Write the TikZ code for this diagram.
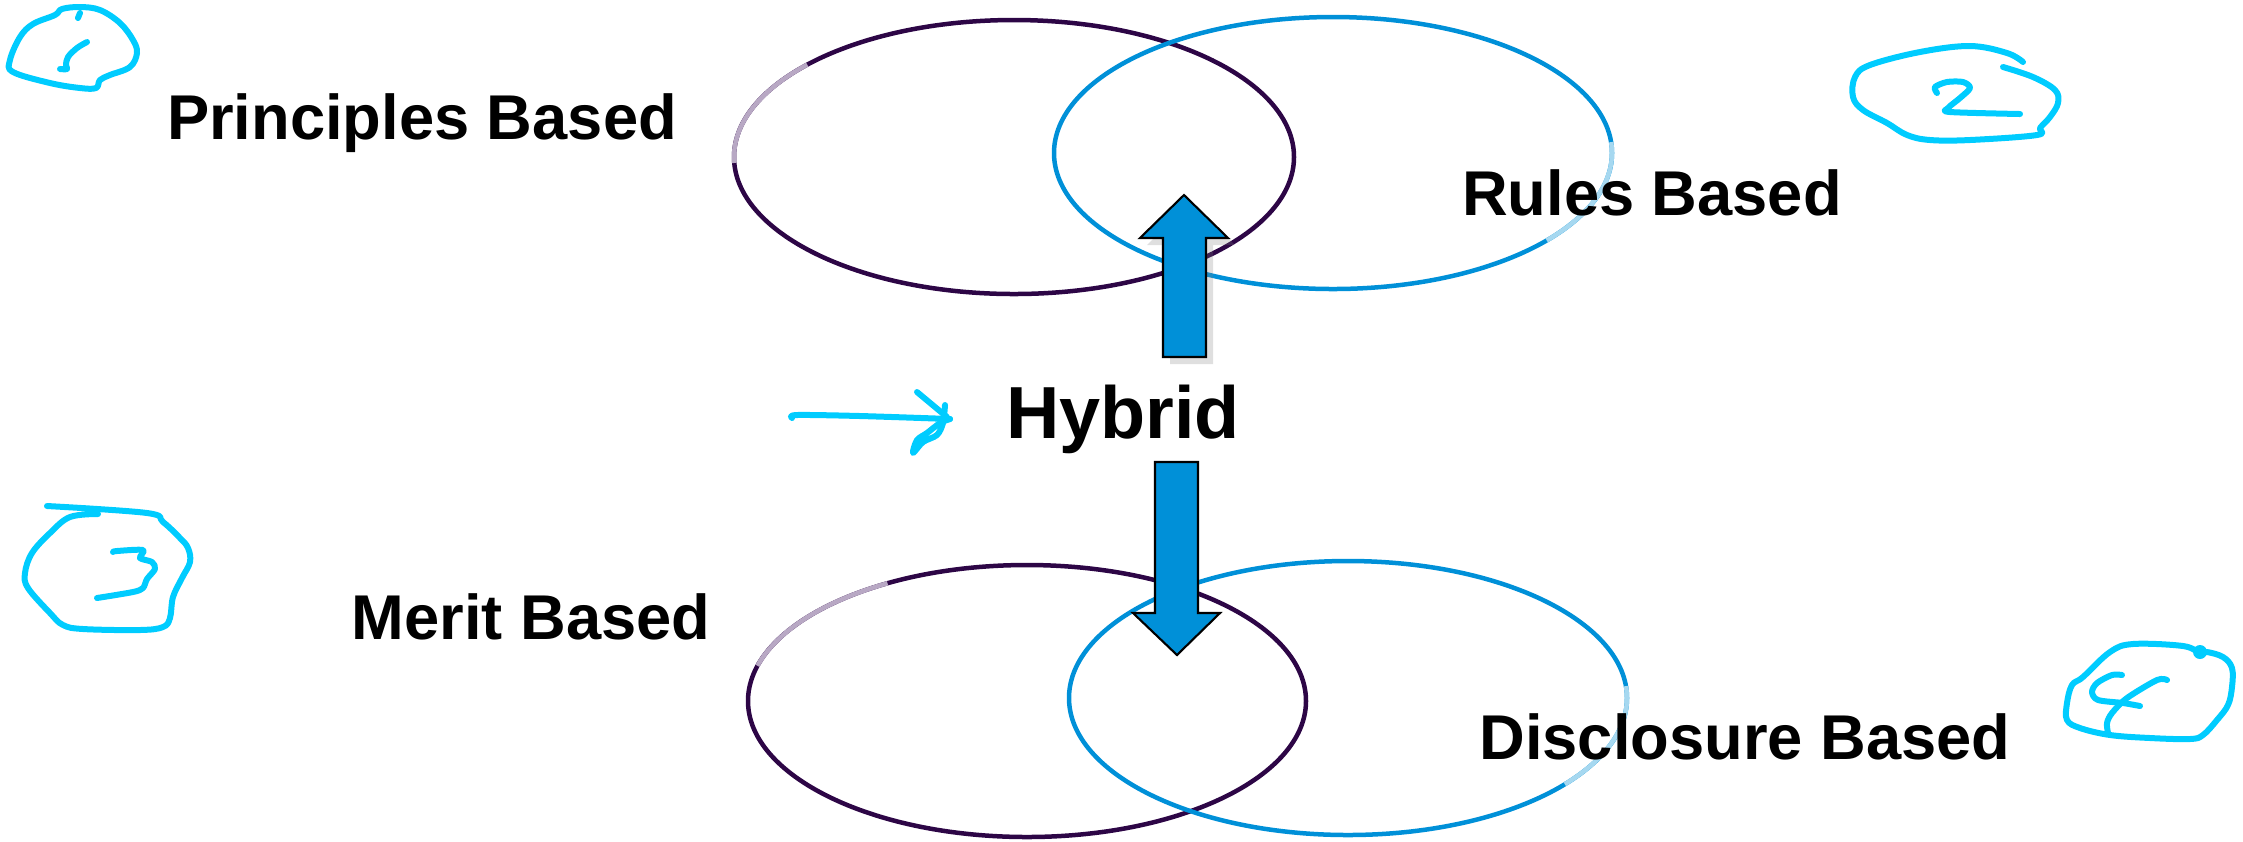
\documentclass[tikz,border=0pt]{standalone}
\usepackage{fontspec}
\setmainfont{Liberation Sans}
\usetikzlibrary{shadows}

\definecolor{setpurple}{RGB}{45,6,70}
\definecolor{setlilac}{RGB}{184,168,196}
\definecolor{setblue}{RGB}{0,144,216}
\definecolor{setpale}{RGB}{166,216,240}
\definecolor{penblue}{RGB}{0,204,255}

\begin{document}
\begin{tikzpicture}[x=0.1mm, y=-0.1mm,
    every node/.style={font=\fontsize{18}{22}\selectfont\bfseries, anchor=base, inner sep=0pt},
    ring/.style={line width=0.45mm},
    blockarrow/.style={fill=setblue, draw=black, line width=0.6pt, line join=miter},
    pen/.style={penblue, line width=0.6mm, line cap=round, line join=round}]
    \useasboundingbox (0,0) rectangle (2243,841);
    % \draw[help lines, step=100] (0,0) grid (2243,841);

    % the four sets
    \coordinate (pc) at (1014,157);
    \coordinate (rc) at (1333,153);
    \coordinate (mc) at (1027,701);
    \coordinate (dc) at (1348,698);
    \draw[ring, setpurple] (pc) ellipse [x radius=280, y radius=137];
    \draw[ring, setlilac] ([shift={(-182.5:280 and 137)}]pc) arc [start angle=-182.5, end angle=-137.6, x radius=280, y radius=137];
    \draw[ring, setblue] (rc) ellipse [x radius=279, y radius=136];
    \draw[ring, setpale] ([shift={(-4.6:279 and 136)}]rc) arc [start angle=-4.6, end angle=40, x radius=279, y radius=136];
    \draw[ring, setpurple] (mc) ellipse [x radius=279, y radius=136];
    \draw[ring, setlilac] ([shift={(-165:279 and 136)}]mc) arc [start angle=-165, end angle=-120, x radius=279, y radius=136];
    \draw[ring, setblue] (dc) ellipse [x radius=279, y radius=137];
    \draw[ring, setpale] ([shift={(-5:279 and 137)}]dc) arc [start angle=-5, end angle=39, x radius=279, y radius=137];

    \node (pb) at (422,139) {Principles Based};
    \node (rb) at (1652,215) {Rules Based};
    \node (mb) at (531,639) {Merit Based};
    \node (db) at (1745,759) {Disclosure Based};
    \node (hyb) at (1123,438) [font=\fontsize{21}{25}\selectfont\bfseries] {Hybrid};

    % block arrows
    \filldraw[blockarrow, drop shadow={opacity=0.25, shadow xshift=0.7mm, shadow yshift=-0.7mm}]
        (1163,357) -- (1163,238) -- (1140,238) -- (1184,195) -- (1228,238) -- (1206,238) -- (1206,357) -- cycle;
    \filldraw[blockarrow]
        (1155,462) -- (1198,462) -- (1198,613) -- (1220,613) -- (1177,655) -- (1133,613) -- (1155,613) -- cycle;

    % pen notes
    \draw[pen] plot[smooth cycle, tension=0.6] coordinates {(10,60) (20,37) (33,24) (55,15) (62,9) (80,7) (100,10) (120,23) (133,40) (137,53) (130,67) (110,75) (100,80) (96,88) (80,88) (50,83) (13,72)};
    \draw[pen] (80,13) -- (78,18);
    \draw[pen] plot[smooth, tension=0.6] coordinates {(87,42) (77,48) (68,57) (66,65) (67,69) (60,69)};

    \draw[pen] plot[smooth, tension=0.6] coordinates {(2003,67) (2033,77) (2055,90) (2058,103) (2050,117) (2040,128) (2037,135) (1970,140) (1930,140) (1907,135) (1887,123) (1863,110) (1853,97) (1855,77) (1870,65) (1920,52) (1970,46) (2007,53) (2023,62)};
    \draw[pen] plot[smooth, tension=0.5] coordinates {(1937,93) (1935,87) (1947,82) (1963,82) (1970,88) (1960,98) (1948,108) (1950,112) (2020,114)};

    \draw[pen] plot[smooth, tension=0.6] coordinates {(98,514) (70,517) (50,533) (32,553) (25,573) (28,588) (50,613) (63,625) (83,629) (140,630) (163,627) (170,618) (173,597) (182,578) (190,562) (188,548) (180,538) (163,522) (147,513) (47,506)};
    \draw[pen] plot[smooth, tension=0.5] coordinates {(113,552) (117,551) (143,550) (140,558) (152,562) (155,569) (147,579) (143,588) (133,592) (97,598)};

    \draw[pen] plot[smooth cycle, tension=0.6] coordinates {(2200,653) (2183,646) (2133,644) (2110,652) (2083,677) (2072,685) (2067,703) (2067,720) (2080,728) (2110,735) (2150,738) (2190,739) (2203,735) (2217,720) (2228,705) (2232,687) (2232,668) (2223,657) (2207,652)};
    \fill[penblue] (2200,652) circle [radius=7];
    \draw[pen] plot[smooth, tension=0.5] coordinates {(2122,675) (2112,675) (2097,683) (2092,692) (2098,700) (2123,703) (2140,706)};
    \draw[pen] plot[smooth, tension=0.5] coordinates {(2167,680) (2157,680) (2127,698) (2112,713) (2107,723) (2108,733)};

    \draw[pen] plot[smooth, tension=0.5] coordinates {(792,418) (797,415) (860,416) (950,419)};
    \draw[pen] (917,392) -- (947,417);
    \draw[pen] plot[smooth, tension=0.5] coordinates {(945,405) (943,423) (937,435) (923,442) (913,453) (917,440) (927,433) (940,423) (950,419)};
\end{tikzpicture}
\end{document}
